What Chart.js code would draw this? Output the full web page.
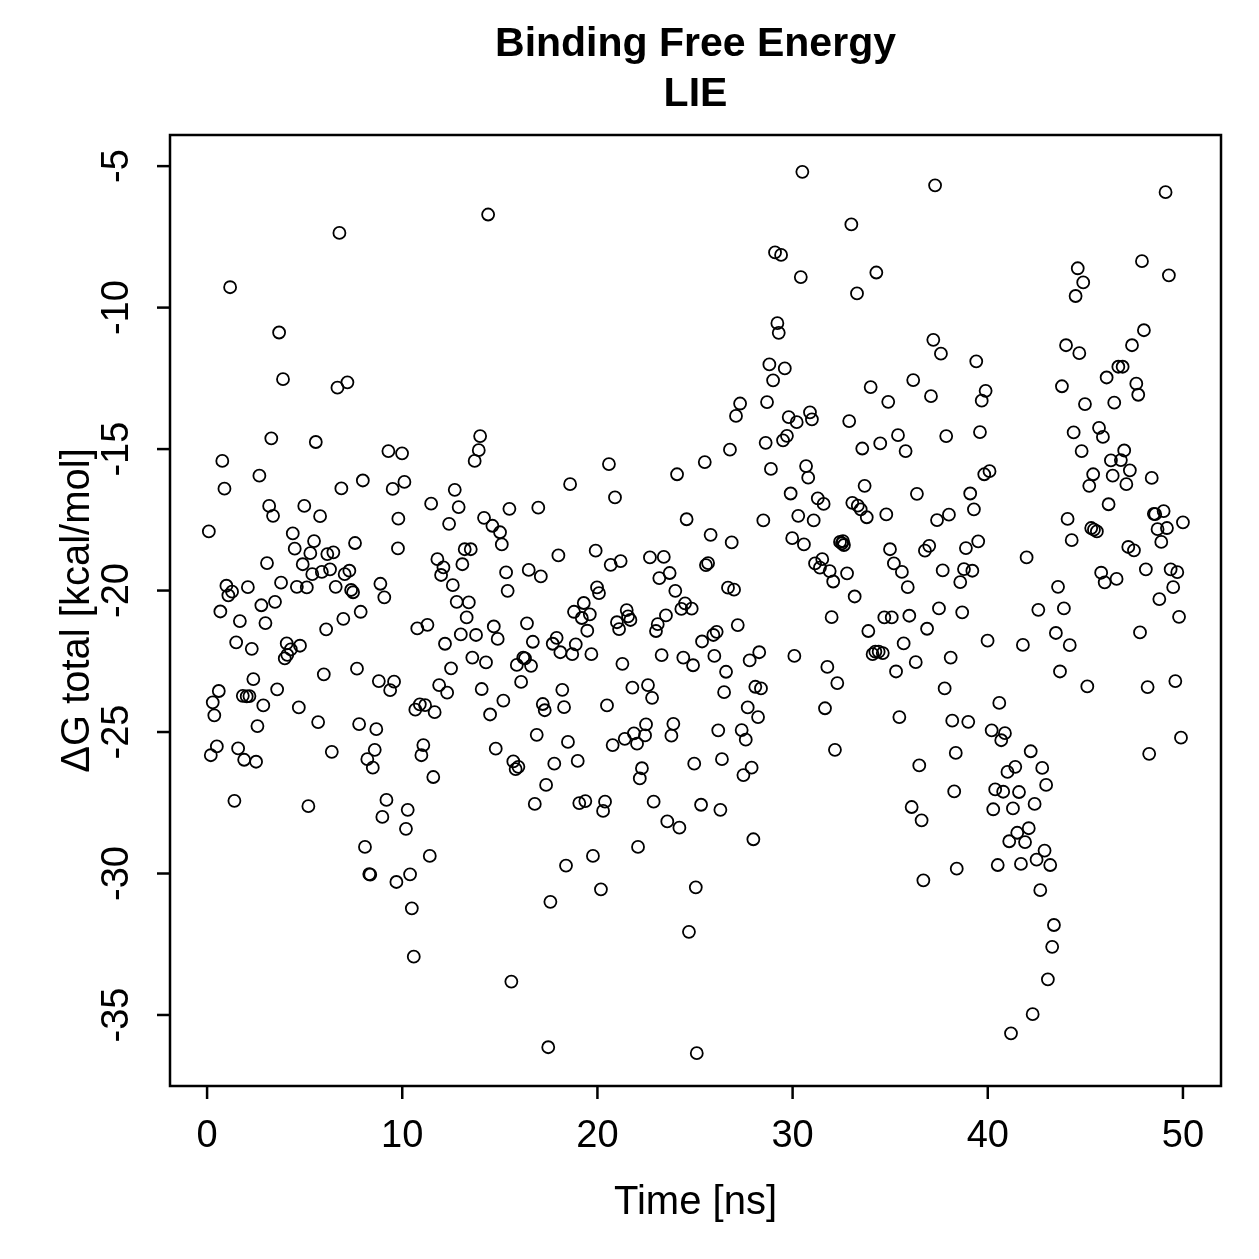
<!DOCTYPE html>
<html>
<head>
<meta charset="utf-8">
<script src="https://cdn.jsdelivr.net/npm/chart.js@4.4.1/dist/chart.umd.min.js"></script>
<style>
  html, body { margin: 0; padding: 0; background: #fff; }
  #wrap { width: 1259px; height: 1259px; }
</style>
</head>
<body>
<div id="wrap"><canvas id="chart" width="1259" height="1259"></canvas></div>
<script>

// DATA

const titleLines = ['Binding Free Energy', 'LIE'];
const xLabel = 'Time [ns]';
const yLabel = 'ΔG total [kcal/mol]';

const xTicks = [0, 10, 20, 30, 40, 50];
const yTicks = [-5, -10, -15, -20, -25, -30, -35];

// time of each snapshot [ns]
const timeNs = [
    0.09, 0.19, 0.29, 0.37, 0.50, 0.60, 0.68, 0.78, 0.89, 0.99,
    1.09, 1.18, 1.28, 1.40, 1.49, 1.59, 1.68, 1.83, 1.90, 2.03,
    2.09, 2.17, 2.29, 2.37, 2.51, 2.58, 2.68, 2.78, 2.88, 2.99,
    3.07, 3.18, 3.29, 3.38, 3.48, 3.59, 3.69, 3.79, 3.89, 3.98,
    4.08, 4.11, 4.29, 4.39, 4.49, 4.60, 4.70, 4.76, 4.90, 4.98,
    5.11, 5.19, 5.29, 5.39, 5.48, 5.57, 5.69, 5.79, 5.88, 5.98,
    6.10, 6.16, 6.30, 6.39, 6.47, 6.59, 6.68, 6.78, 6.88, 6.98,
    7.05, 7.19, 7.29, 7.38, 7.48, 7.58, 7.68, 7.79, 7.87, 7.98,
    8.09, 8.21, 8.31, 8.36, 8.49, 8.59, 8.67, 8.80, 8.88, 8.98,
    9.08, 9.19, 9.29, 9.38, 9.51, 9.58, 9.70, 9.78, 9.80, 9.99,
    10.11, 10.19, 10.28, 10.40, 10.49, 10.59, 10.67, 10.77, 10.90, 10.98,
    11.08, 11.17, 11.29, 11.41, 11.48, 11.59, 11.66, 11.80, 11.89, 11.99,
    12.11, 12.19, 12.30, 12.40, 12.50, 12.59, 12.69, 12.79, 12.89, 13.00,
    13.08, 13.20, 13.30, 13.41, 13.51, 13.59, 13.71, 13.78, 13.92, 13.99,
    14.07, 14.19, 14.29, 14.40, 14.50, 14.62, 14.69, 14.79, 14.89, 15.01,
    15.10, 15.18, 15.32, 15.40, 15.49, 15.59, 15.69, 15.81, 15.87, 15.95,
    16.09, 16.20, 16.29, 16.39, 16.48, 16.60, 16.69, 16.79, 16.89, 16.97,
    17.10, 17.20, 17.30, 17.37, 17.48, 17.59, 17.71, 17.79, 17.91, 18.00,
    18.10, 18.20, 18.29, 18.39, 18.49, 18.60, 18.71, 18.80, 18.89, 18.99,
    19.07, 19.20, 19.30, 19.38, 19.48, 19.61, 19.69, 19.77, 19.91, 19.98,
    20.08, 20.18, 20.29, 20.39, 20.49, 20.59, 20.68, 20.78, 20.90, 21.00,
    21.11, 21.19, 21.28, 21.40, 21.50, 21.57, 21.69, 21.79, 21.87, 22.03,
    22.08, 22.17, 22.28, 22.44, 22.49, 22.59, 22.69, 22.80, 22.88, 23.00,
    23.09, 23.17, 23.29, 23.40, 23.51, 23.58, 23.70, 23.79, 23.89, 23.99,
    24.08, 24.20, 24.30, 24.40, 24.49, 24.57, 24.69, 24.83, 24.90, 24.96,
    25.04, 25.09, 25.31, 25.36, 25.50, 25.56, 25.67, 25.80, 25.94, 25.99,
    26.11, 26.19, 26.30, 26.38, 26.49, 26.59, 26.69, 26.79, 26.88, 27.00,
    27.10, 27.19, 27.31, 27.39, 27.48, 27.60, 27.70, 27.80, 27.90, 27.99,
    28.09, 28.23, 28.29, 28.38, 28.50, 28.62, 28.69, 28.81, 28.89, 29.00,
    29.10, 29.22, 29.29, 29.41, 29.51, 29.60, 29.71, 29.80, 29.90, 29.98,
    30.09, 30.21, 30.29, 30.42, 30.50, 30.58, 30.69, 30.80, 30.89, 30.99,
    31.08, 31.15, 31.29, 31.40, 31.52, 31.59, 31.66, 31.78, 31.90, 32.00,
    32.08, 32.17, 32.29, 32.43, 32.53, 32.58, 32.63, 32.79, 32.90, 33.01,
    33.06, 33.18, 33.30, 33.34, 33.49, 33.57, 33.69, 33.80, 33.88, 34.00,
    34.10, 34.24, 34.29, 34.41, 34.49, 34.62, 34.70, 34.80, 34.90, 34.99,
    35.08, 35.19, 35.30, 35.40, 35.47, 35.60, 35.69, 35.79, 35.90, 35.98,
    36.10, 36.18, 36.31, 36.37, 36.49, 36.61, 36.70, 36.78, 36.89, 37.00,
    37.09, 37.21, 37.30, 37.40, 37.50, 37.60, 37.69, 37.79, 37.87, 38.01,
    38.10, 38.18, 38.28, 38.36, 38.41, 38.59, 38.69, 38.78, 38.88, 39.00,
    39.10, 39.21, 39.29, 39.41, 39.51, 39.60, 39.69, 39.82, 39.89, 39.99,
    40.09, 40.20, 40.28, 40.38, 40.51, 40.59, 40.69, 40.79, 40.88, 41.01,
    41.10, 41.19, 41.29, 41.41, 41.51, 41.60, 41.70, 41.80, 41.91, 41.99,
    42.10, 42.20, 42.30, 42.40, 42.50, 42.59, 42.69, 42.79, 42.91, 42.99,
    43.08, 43.20, 43.30, 43.39, 43.49, 43.60, 43.70, 43.80, 43.90, 44.01,
    44.09, 44.20, 44.30, 44.40, 44.50, 44.61, 44.69, 44.81, 44.89, 44.98,
    45.10, 45.20, 45.30, 45.40, 45.44, 45.59, 45.70, 45.81, 45.90, 45.99,
    46.09, 46.19, 46.31, 46.40, 46.48, 46.60, 46.69, 46.82, 46.91, 46.99,
    47.10, 47.20, 47.28, 47.39, 47.49, 47.61, 47.71, 47.80, 47.90, 48.00,
    48.10, 48.19, 48.27, 48.40, 48.51, 48.58, 48.70, 48.79, 48.89, 49.01,
    49.11, 49.18, 49.28, 49.37, 49.50, 49.61, 49.71, 49.80, 49.90, 50.00
];

// LIE binding free energy of each snapshot [kcal/mol]
const deltaG = [
    -17.91, -25.82, -23.95, -24.41, -25.51, -23.55, -20.74, -15.42, -16.40, -19.83,
    -20.17, -9.28, -20.04, -27.43, -21.83, -25.58, -21.08, -23.72, -25.98, -23.74,
    -19.88, -23.73, -22.06, -23.13, -26.05, -24.79, -15.94, -20.52, -24.06, -21.15,
    -19.03, -17.01, -14.62, -17.36, -20.40, -23.49, -10.88, -19.72, -12.53, -22.40,
    -21.87, -22.27, -22.08, -17.98, -18.52, -19.87, -24.13, -21.95, -19.07, -17.01,
    -19.89, -27.62, -18.68, -19.42, -18.25, -14.75, -24.65, -17.37, -19.34, -22.96,
    -21.37, -18.71, -19.25, -25.70, -18.65, -19.87, -12.83, -7.36, -16.39, -21.00,
    -19.42, -12.64, -19.30, -19.98, -20.06, -18.32, -22.76, -24.72, -20.75, -16.11,
    -29.06, -25.96, -30.02, -30.04, -26.26, -25.63, -24.90, -23.20, -19.76, -28.00,
    -20.24, -27.40, -15.07, -23.52, -16.41, -23.22, -30.30, -18.51, -17.46, -15.15,
    -16.16, -28.42, -27.75, -30.03, -31.23, -32.94, -24.21, -21.34, -24.02, -25.82,
    -25.46, -24.05, -21.21, -29.38, -16.93, -26.59, -24.30, -18.89, -23.34, -19.45,
    -19.18, -21.88, -23.61, -17.64, -22.75, -19.81, -16.44, -20.40, -17.05, -21.55,
    -19.07, -18.54, -20.95, -20.42, -18.54, -22.37, -15.42, -21.57, -15.04, -14.54,
    -23.48, -17.43, -22.54, -6.71, -24.38, -17.71, -21.27, -25.59, -21.71, -17.94,
    -18.37, -23.89, -19.36, -20.01, -17.11, -33.82, -26.04, -26.31, -22.63, -26.23,
    -23.23, -22.37, -22.40, -21.16, -19.27, -22.66, -21.81, -27.54, -25.10, -17.07,
    -19.50, -24.01, -24.23, -26.87, -36.14, -31.00, -21.88, -26.12, -21.67, -18.76,
    -22.18, -23.51, -24.12, -29.72, -25.35, -16.24, -22.25, -20.75, -21.90, -26.02,
    -27.51, -20.97, -20.44, -27.44, -21.42, -20.84, -22.25, -29.38, -18.59, -19.89,
    -20.09, -30.56, -27.79, -27.46, -24.06, -15.53, -19.09, -25.46, -16.71, -21.12,
    -21.36, -18.96, -22.59, -25.24, -20.69, -20.91, -21.04, -23.43, -25.05, -25.41,
    -29.06, -26.64, -26.28, -25.12, -24.73, -23.34, -18.83, -23.79, -27.46, -21.43,
    -21.19, -19.56, -22.28, -18.81, -20.88, -28.16, -19.38, -25.13, -24.71, -20.01,
    -15.89, -28.38, -20.65, -22.37, -20.45, -17.48, -32.06, -20.64, -22.64, -26.12,
    -30.49, -36.35, -27.57, -21.80, -15.46, -19.10, -19.03, -18.03, -21.57, -22.31,
    -21.46, -24.94, -27.75, -25.96, -23.59, -22.87, -19.90, -15.02, -18.30, -19.97,
    -13.83, -21.22, -13.39, -24.93, -26.52, -25.27, -24.13, -22.47, -26.26, -28.79,
    -23.40, -24.47, -22.18, -23.46, -17.52, -14.78, -13.34, -12.01, -15.70, -12.57,
    -8.05, -10.55, -10.89, -8.14, -14.69, -12.15, -14.53, -13.87, -16.57, -18.15,
    -22.31, -14.05, -17.36, -8.92, -5.20, -18.37, -15.60, -16.01, -13.70, -13.95,
    -17.52, -19.04, -16.74, -19.19, -18.89, -16.94, -24.16, -22.70, -19.31, -20.94,
    -19.68, -25.63, -23.27, -18.28, -18.33, -18.25, -18.39, -19.39, -14.01, -7.06,
    -16.90, -20.21, -9.50, -17.00, -17.13, -14.98, -16.30, -17.41, -21.43, -12.81,
    -22.25, -22.16, -8.76, -22.16, -14.80, -22.21, -20.95, -17.31, -13.33, -18.54,
    -20.95, -19.04, -22.86, -14.51, -24.47, -19.34, -21.87, -15.07, -19.88, -20.89,
    -27.65, -12.56, -22.53, -16.58, -26.18, -28.12, -30.24, -18.59, -21.35, -18.42,
    -13.13, -11.14, -5.68, -17.51, -20.63, -11.63, -19.29, -23.46, -14.54, -17.32,
    -22.37, -24.60, -27.10, -25.74, -29.83, -19.70, -20.77, -19.24, -18.50, -24.64,
    -16.57, -19.30, -17.13, -11.90, -18.26, -14.40, -13.29, -15.89, -12.94, -21.77,
    -15.78, -24.94, -27.73, -27.03, -29.70, -23.97, -25.29, -27.11, -25.04, -26.41,
    -28.86, -35.65, -27.70, -26.23, -28.56, -27.12, -29.66, -21.92, -28.89, -18.83,
    -28.40, -25.68, -34.97, -27.54, -29.51, -20.68, -30.59, -26.27, -29.19, -26.87,
    -33.74, -29.70, -32.59, -31.82, -21.50, -19.87, -22.86, -12.78, -20.63, -11.33,
    -17.47, -21.93, -18.22, -14.41, -9.59, -8.61, -11.61, -15.07, -9.11, -13.41,
    -23.39, -16.30, -17.79, -15.89, -17.85, -17.91, -14.25, -19.37, -14.57, -19.71,
    -12.47, -16.95, -15.40, -15.94, -13.36, -19.59, -12.09, -15.39, -12.09, -15.05,
    -16.24, -18.46, -15.75, -11.33, -18.58, -12.69, -13.08, -21.48, -8.36, -10.80,
    -19.25, -23.41, -25.77, -16.02, -17.29, -17.30, -17.83, -20.30, -18.28, -17.19,
    -5.92, -17.79, -8.86, -19.25, -19.88, -23.20, -19.35, -20.93, -25.20, -17.59
];


// STYLE

const FONT = "'Liberation Sans', Arial, Helvetica, sans-serif";


// FRAME PLUGIN (R-style box, ticks, labels, title)

const frame = {
    id: 'frame',
    afterDraw(chart) {
        const { ctx, chartArea: a, scales: { x, y } } = chart;
        ctx.save();
        ctx.strokeStyle = '#000';
        ctx.fillStyle = '#000';
        ctx.lineWidth = 2.5;
        ctx.strokeRect(a.left, a.top, a.right - a.left, a.bottom - a.top);

        const line = (x1, y1, x2, y2) => {
            ctx.beginPath();
            ctx.moveTo(x1, y1);
            ctx.lineTo(x2, y2);
            ctx.stroke();
        };

        ctx.font = `38px ${FONT}`;
        ctx.textAlign = 'center';
        ctx.textBaseline = 'middle';

        xTicks.forEach(v => {
            const px = x.getPixelForValue(v);
            line(px, a.bottom, px, a.bottom + 13);
            ctx.fillText(String(v), px, a.bottom + 51);
        });

        yTicks.forEach(v => {
            const py = y.getPixelForValue(v);
            line(a.left, py, a.left - 13, py);
            ctx.save();
            ctx.translate(a.left - 52, py);
            ctx.rotate(-Math.PI / 2);
            ctx.fillText(String(v), 0, 0);
            ctx.restore();
        });

        // axis titles
        ctx.font = `40px ${FONT}`;
        const cx = (a.left + a.right) / 2;
        const cy = (a.top + a.bottom) / 2;
        ctx.fillText(xLabel, cx, a.bottom + 117);
        ctx.save();
        ctx.translate(a.left - 92, cy);
        ctx.rotate(-Math.PI / 2);
        ctx.fillText(yLabel, 0, 0);
        ctx.restore();

        // main title
        ctx.font = `bold 41px ${FONT}`;
        ctx.fillText(titleLines[0], cx, 45);
        ctx.fillText(titleLines[1], cx, 95);
        ctx.restore();
    }
};


// CHART

const points = timeNs.map((t, i) => ({ x: t, y: deltaG[i] }));

new Chart(document.getElementById('chart').getContext('2d'), {
    type: 'scatter',
    data: {
        datasets: [{
            data: points,
            pointStyle: 'circle',
            pointRadius: 6,
            pointBorderWidth: 1.8,
            borderColor: '#000',
            backgroundColor: 'rgba(0,0,0,0)'
        }]
    },
    options: {
        responsive: false,
        animation: false,
        devicePixelRatio: 1,
        layout: { padding: { left: 170, right: 38, top: 135, bottom: 173 } },
        plugins: {
            legend: { display: false },
            tooltip: { enabled: false },
            title: { display: false }
        },
        scales: {
            x: { type: 'linear', min: -1.9, max: 51.95, display: false },
            y: { type: 'linear', min: -37.51, max: -3.9, display: false }
        }
    },
    plugins: [frame]
});
</script>
</body>
</html>
